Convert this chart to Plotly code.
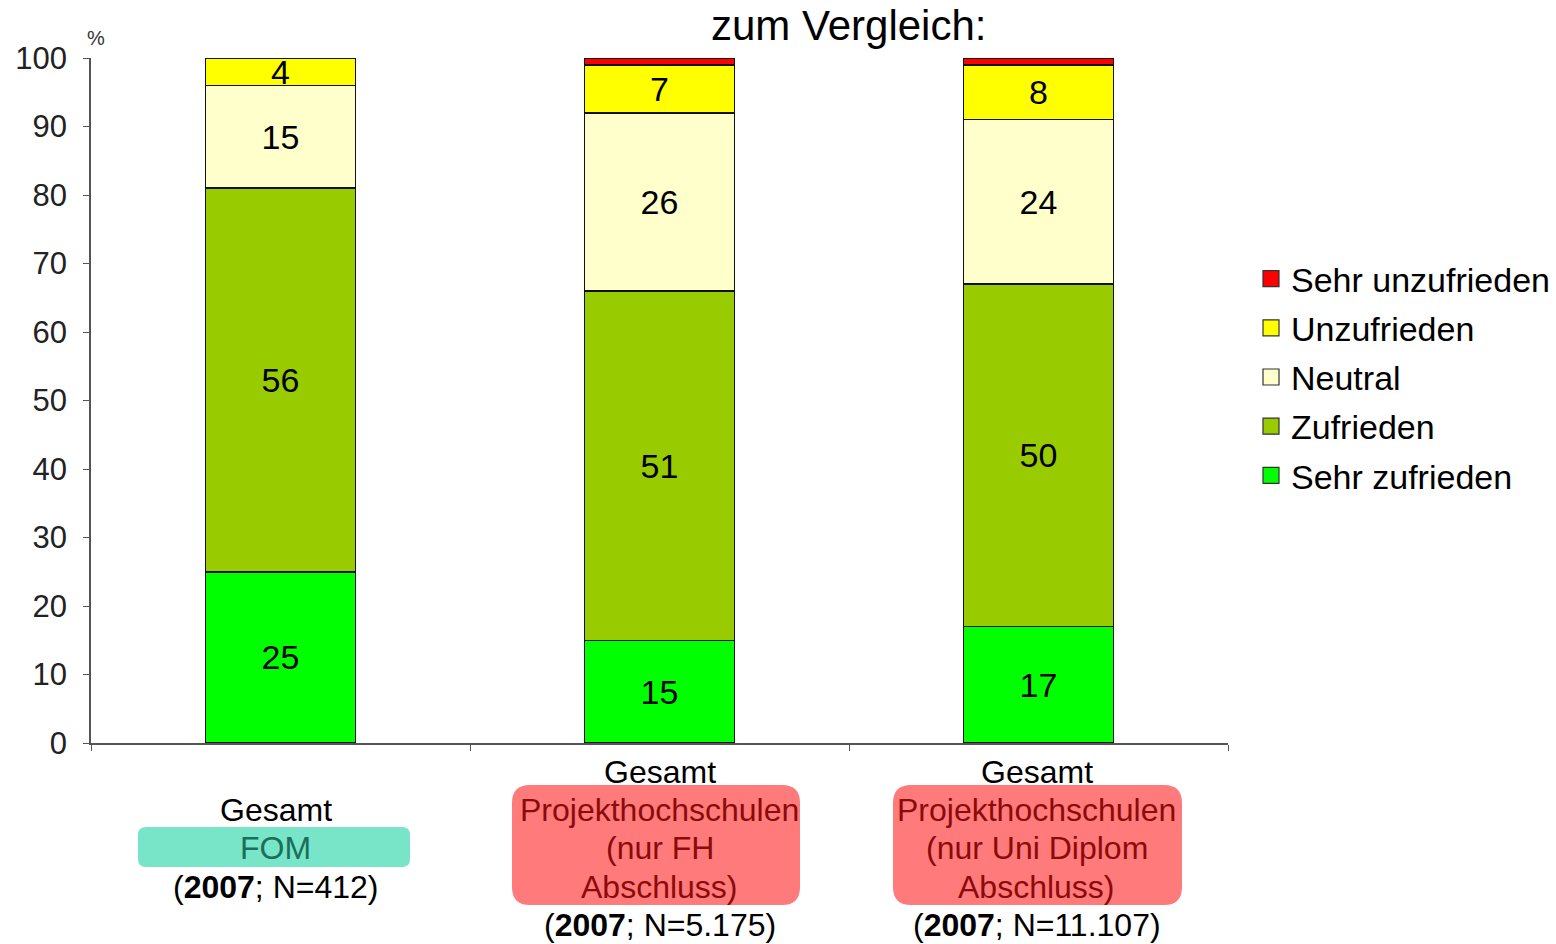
import plotly.graph_objects as go

# ---- data ----
categories = ["FOM", "FH", "Uni"]
series_names = ["Sehr zufrieden", "Zufrieden", "Neutral", "Unzufrieden", "Sehr unzufrieden"]
series_colors = ["#00FF00", "#99CC00", "#FFFFCC", "#FFFF00", "#FF0000"]
sehr_zufrieden = [25, 15, 17]
zufrieden = [56, 51, 50]
neutral = [15, 26, 24]
unzufrieden = [4, 7, 8]
sehr_unzufrieden = [0, 1, 1]

# category label lines: (text, color)
label_lines = [
    [("Gesamt", "black"), ("FOM", "#1B6E5A"), ("(<b>2007</b>; N=412)", "black")],
    [("Gesamt", "black"), ("Projekthochschulen", "#8B0A0A"), ("(nur FH", "#8B0A0A"),
     ("Abschluss)", "#8B0A0A"), ("(<b>2007</b>; N=5.175)", "black")],
    [("Gesamt", "black"), ("Projekthochschulen", "#8B0A0A"), ("(nur Uni Diplom", "#8B0A0A"),
     ("Abschluss)", "#8B0A0A"), ("(<b>2007</b>; N=11.107)", "black")],
]
label_xshift = [-5, 0, -2]

FONT = "Liberation Sans, Arial, sans-serif"
W, H = 1556, 944
L, R, T, B = 91, 1556 - 1228, 58, 944 - 743
PW, PH = W - L - R, H - T - B


def px_x(px):
    return (px - L) / PW


def px_y(py):
    return (H - B - py) / PH


fig = go.Figure()
all_values = [sehr_zufrieden, zufrieden, neutral, unzufrieden, sehr_unzufrieden]
for name, color, vals in zip(series_names, series_colors, all_values):
    fig.add_trace(go.Bar(
        x=categories, y=vals, name=name, showlegend=False,
        marker=dict(color=color, line=dict(color="#111111", width=1.5)),
        text=[str(v) if v >= 3 else "" for v in vals],
        textposition="inside", insidetextanchor="middle",
        textangle=0, constraintext="none",
        textfont=dict(size=34, color="black", family=FONT),
    ))

# legend entries (square swatches), top entry = Sehr unzufrieden
for rank, (name, color) in enumerate(zip(series_names, series_colors)):
    fig.add_trace(go.Scatter(
        x=[None], y=[None], mode="markers", name=name,
        marker=dict(symbol="square", size=16, color=color, line=dict(color="#333333", width=1.2)),
        legendrank=100 - rank, legendgroup=name,
    ))

# label boxes (rounded) behind the category labels
def rounded(w, h, r):
    return (f"M {-w + r},{-h} L {w - r},{-h} Q {w},{-h} {w},{-h + r} "
            f"L {w},{h - r} Q {w},{h} {w - r},{h} L {-w + r},{h} "
            f"Q {-w},{h} {-w},{h - r} L {-w},{-h + r} Q {-w},{-h} {-w + r},{-h} Z")

boxes = [(274, 847, 136, 20, 8, "#78E4C8"),
         (656, 845, 144, 60, 18, "#FF7A7A"),
         (1037.5, 845, 144.5, 60, 18, "#FF7A7A")]
shapes = []
for cx, cy, w, h, r, col in boxes:
    shapes.append(dict(type="path", xref="paper", yref="paper",
                       xsizemode="pixel", ysizemode="pixel",
                       xanchor=px_x(cx), yanchor=px_y(cy),
                       path=rounded(w, h, r), fillcolor=col,
                       line=dict(width=0), layer="above"))

annotations = []
line_y = {3: [810, 848, 887], 5: [772, 810, 848, 887, 925]}
for i, lines in enumerate(label_lines):
    ys = line_y[len(lines)]
    for (txt, col), py in zip(lines, ys):
        annotations.append(dict(text=txt, x=i, xref="x", y=px_y(py), yref="paper",
                                xshift=label_xshift[i],
                                showarrow=False, xanchor="center", yanchor="middle",
                                font=dict(size=32, color=col, family=FONT)))

annotations.append(dict(text="zum Vergleich:", x=px_x(848), y=px_y(25), xref="paper", yref="paper",
                        showarrow=False, xanchor="center", yanchor="middle",
                        font=dict(size=42, color="black", family=FONT)))
annotations.append(dict(text="%", x=px_x(96), y=px_y(38), xref="paper", yref="paper",
                        showarrow=False, xanchor="center", yanchor="middle",
                        font=dict(size=20, color="#333333", family=FONT)))

fig.update_layout(
    width=W, height=H,
    margin=dict(l=L, r=R, t=T, b=B, pad=0, autoexpand=False),
    barmode="stack", bargap=0.604,
    paper_bgcolor="white", plot_bgcolor="white",
    font=dict(family=FONT, color="black"),
    xaxis=dict(showticklabels=False, tickson="boundaries", ticks="outside", ticklen=6,
               tickcolor="#555555", showline=True, linecolor="#555555", linewidth=1.5,
               showgrid=False, zeroline=False),
    yaxis=dict(range=[0, 100], dtick=10, ticks="outside", ticklen=6, tickcolor="#555555",
               showline=True, linecolor="#555555", linewidth=1.5, showgrid=False,
               zeroline=False, ticklabelstandoff=10,
               tickfont=dict(size=31, color="#222222", family=FONT)),
    legend=dict(x=px_x(1251), y=px_y(250), xanchor="left", yanchor="top",
                traceorder="grouped", tracegroupgap=2,
                font=dict(size=34, color="black", family=FONT),
                bgcolor="rgba(0,0,0,0)"),
    shapes=shapes,
    annotations=annotations,
    showlegend=True,
)

fig.write_html("out.html", config={"displayModeBar": False},
               post_script="document.body.style.margin='0';")
